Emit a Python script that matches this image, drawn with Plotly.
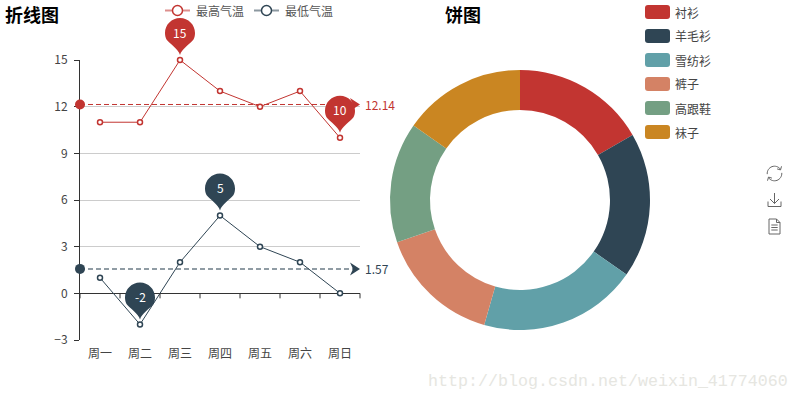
import math
import plotly.graph_objects as go

days = ["周一", "周二", "周三", "周四", "周五", "周六", "周日"]
high_temps = [11, 11, 15, 13, 12, 13, 10]
low_temps = [1, -2, 2, 5, 3, 2, 0]
high_avg = 12.14
low_avg = 1.57
high_pins = [("周三", 15), ("周日", 10)]
low_pins = [("周四", 5), ("周二", -2)]
series_names = ["最高气温", "最低气温"]
pie_labels = ["衬衫", "羊毛衫", "雪纺衫", "裤子", "高跟鞋", "袜子"]
pie_values = [60, 65, 71, 55, 54, 55]
y_ticks = [-3, 0, 3, 6, 9, 12, 15]

RED, NAVY = "#c23531", "#2f4554"
PIE_COLORS = [RED, NAVY, "#61a0a8", "#d48265", "#749f83", "#ca8622"]
FONT = "Noto Sans CJK SC"
W, H = 800, 400
TXT = "#444444"
AXIS = "#333333"
L, R, T, B = 80, 360, 60, 340  # plot box in pixels


def px(x):
    return x / W


def py(y):
    return 1 - y / H


n_days = len(days)
day_idx = list(range(n_days))
x_lo, x_hi = -0.5, n_days - 0.5
y_lo, y_hi = y_ticks[0], y_ticks[-1]
# full-page overlay axes that share the scale of the main axes, so pins are not clipped
ux = (x_hi - x_lo) / (R - L)
uy = (y_hi - y_lo) / (B - T)
x2_range = [x_lo - L * ux, x_hi + (W - R) * ux]
y2_range = [y_lo - (H - B) * uy, y_hi + T * uy]

PIN = ("M0,5 C-1.5,11 -10,16 -13.5,20.5 C-14.5,22.3 -15,24.5 -15,27 "
       "C-15,35.3 -8.3,42 0,42 C8.3,42 15,35.3 15,27 C15,24.5 14.5,22.3 13.5,20.5 "
       "C10,16 1.5,11 0,5 Z")
ARROW = "M0,0 L-10,6.5 L-7,0 L-10,-6.5 Z"

fig = go.Figure()
for name, vals, col, avg, w, op in [(series_names[0], high_temps, RED, high_avg, 1, 1),
                                    (series_names[1], low_temps, NAVY, low_avg, 1.5, 0.7)]:
    fig.add_trace(go.Scatter(
        x=[x_lo, x_hi], y=[avg, avg], mode="lines", showlegend=False, opacity=op,
        line=dict(color=col, width=w, dash="5px,3px"), hoverinfo="skip", cliponaxis=False))
    fig.add_trace(go.Scatter(
        x=day_idx, y=vals, name=name, mode="lines+markers",
        line=dict(color=col, width=1),
        marker=dict(size=5, color="white", line=dict(color=col, width=1.5)),
        cliponaxis=False, hoverinfo="skip", showlegend=False))

fig.add_trace(go.Scatter(x=[None], y=[None], xaxis="x2", yaxis="y2", showlegend=False, hoverinfo="skip"))

fig.add_trace(go.Pie(
    labels=pie_labels, values=pie_values, hole=90 / 130, sort=False, direction="clockwise",
    rotation=0, textinfo="none", hoverinfo="skip", showlegend=False,
    marker=dict(colors=PIE_COLORS, line=dict(width=0)),
    domain=dict(x=[px(390), px(650)], y=[py(330), py(70)])))

shapes, annos = [], []


def text(x, y, s, size=12, color=TXT, bold=False, anchor="left", family=FONT):
    annos.append(dict(xref="paper", yref="paper", x=px(x), y=py(y), text=f"<b>{s}</b>" if bold else s,
                      showarrow=False, xanchor=anchor, yanchor="middle", borderpad=0, borderwidth=0,
                      font=dict(size=size, color=color, family=family)))


def anchored_path(path, x, y, color):
    shapes.append(dict(type="path", path=path, xref="x2", yref="y2", xsizemode="pixel", ysizemode="pixel",
                       xanchor=x, yanchor=y, fillcolor=color, line=dict(color=color, width=0), layer="above"))


# x-axis ticks hanging from the zero line, on the band boundaries
for i in range(n_days + 1):
    shapes.append(dict(type="line", xref="x2", yref="y2", ysizemode="pixel", yanchor=0,
                       x0=i - 0.5, x1=i - 0.5, y0=0, y1=-5, line=dict(color=AXIS, width=1), layer="below"))

# average-line end symbols and labels
for avg, col in [(high_avg, RED), (low_avg, NAVY)]:
    anchored_path(ARROW, x_hi, avg, col)
    shapes.append(dict(type="circle", xref="x2", yref="y2", xsizemode="pixel", ysizemode="pixel",
                       xanchor=x_lo, yanchor=avg, x0=-5, x1=5, y0=-5, y1=5,
                       fillcolor=col, line=dict(width=0), layer="above"))
    annos.append(dict(xref="x", yref="y", x=x_hi, y=avg, text=str(avg), showarrow=False,
                      xanchor="left", yanchor="middle", xshift=3,
                      font=dict(size=12, color=col, family=FONT)))

# pins
for pins, col in [(high_pins, RED), (low_pins, NAVY)]:
    for d, v in pins:
        i = days.index(d)
        anchored_path(PIN, i, v, col)
        annos.append(dict(xref="x", yref="y", x=i, y=v, text=str(v), showarrow=False, yshift=28,
                          font=dict(size=12, color="white", family=FONT)))

# titles
text(5, 14, "折线图", size=18, color="#000000", bold=True)
text(445, 14, "饼图", size=18, color="#000000", bold=True)

# top legend
for name, col, x0 in [(series_names[0], RED, 165), (series_names[1], NAVY, 254)]:
    shapes.append(dict(type="line", xref="paper", yref="paper", x0=px(x0), x1=px(x0 + 25), y0=py(10.5), y1=py(10.5),
                       line=dict(color=col, width=2), opacity=0.55))
    shapes.append(dict(type="circle", xref="paper", yref="paper", x0=px(x0 + 7.5), x1=px(x0 + 17.5),
                       y0=py(15.5), y1=py(5.5), fillcolor="white", line=dict(color=col, width=1.5)))
    text(x0 + 31, 10, name, color="#555555")

# pie legend
for i, (lab, col) in enumerate(zip(pie_labels, PIE_COLORS)):
    yc = 12 + 24 * i
    l, r, t, b, k = 645, 670, yc - 7, yc + 7, 3
    path = (f"M{px(l + k)},{py(t)} L{px(r - k)},{py(t)} Q{px(r)},{py(t)} {px(r)},{py(t + k)} "
            f"L{px(r)},{py(b - k)} Q{px(r)},{py(b)} {px(r - k)},{py(b)} L{px(l + k)},{py(b)} "
            f"Q{px(l)},{py(b)} {px(l)},{py(b - k)} L{px(l)},{py(t + k)} Q{px(l)},{py(t)} {px(l + k)},{py(t)} Z")
    shapes.append(dict(type="path", xref="paper", yref="paper", path=path, fillcolor=col, line=dict(width=0)))
    text(675, yc, lab)


# toolbox icons
def arc(r, a0, a1, n=16):
    pts = [(r * math.cos(math.radians(a0 + (a1 - a0) * j / n)), r * math.sin(math.radians(a0 + (a1 - a0) * j / n)))
           for j in range(n + 1)]
    return "M" + " L".join(f"{x:.2f},{y:.2f}" for x, y in pts)


ICON = "#666666"
refresh = (arc(7.3, 185, 35) + " M7,7.2 L6,3.6 L2.6,4.6 " + arc(7.3, 5, -145) + " M-7,-7.2 L-6,-3.6 L-2.6,-4.6")
download = "M0,7 L0,-3.5 M-4.5,1 L0,-3.5 L4.5,1 M-6.5,-1.5 L-6.5,-6.5 L6.5,-6.5 L6.5,-1.5"
sheet = ("M-5.5,7.5 L2,7.5 L5.5,4 L5.5,-7.5 L-5.5,-7.5 Z M2,7.5 L2,4 L5.5,4 "
         "M-3.2,1.5 L3.2,1.5 M-3.2,-1 L3.2,-1 M-3.2,-3.5 L3.2,-3.5")
for p, yc in [(refresh, 173.5), (download, 200), (sheet, 226.5)]:
    shapes.append(dict(type="path", path=p, xref="paper", yref="paper", xsizemode="pixel", ysizemode="pixel",
                       xanchor=px(774.5), yanchor=py(yc), line=dict(color=ICON, width=1),
                       fillcolor="rgba(0,0,0,0)"))

# watermark
text(428, 381, "http://blog.csdn.net/weixin_41774060", size=16.67, color="#e6e6e1", family="Liberation Mono")

fig.update_layout(
    width=W, height=H, margin=dict(l=0, r=0, t=0, b=0, autoexpand=False), autosize=False,
    paper_bgcolor="white", plot_bgcolor="rgba(0,0,0,0)", showlegend=False, hovermode=False,
    font=dict(family=FONT, size=12, color=TXT),
    shapes=shapes, annotations=annos,
    xaxis=dict(domain=[px(L), px(R)], range=[x_lo, x_hi], tickvals=day_idx, ticktext=days, showgrid=False,
               zeroline=False, showline=False, ticks="", tickfont=dict(size=12, color=TXT, family=FONT),
               automargin=False, ticklabelstandoff=5),
    yaxis=dict(domain=[py(B), py(T)], range=[y_lo, y_hi], tickvals=y_ticks, showgrid=True, gridcolor="#cccccc",
               gridwidth=1, zeroline=True, zerolinecolor=AXIS, zerolinewidth=1, showline=True, linecolor=AXIS,
               linewidth=1, ticks="outside", ticklen=5, tickcolor=AXIS, tickwidth=1, automargin=False,
               ticklabelstandoff=4, tickfont=dict(size=12, color=TXT, family=FONT)),
    xaxis2=dict(domain=[0, 1], range=x2_range, visible=False, anchor="y2", fixedrange=True),
    yaxis2=dict(domain=[0, 1], range=y2_range, visible=False, anchor="x2", fixedrange=True),
)

fig.write_html("out.html", config=dict(displayModeBar=False), post_script="document.body.style.margin='0';")
